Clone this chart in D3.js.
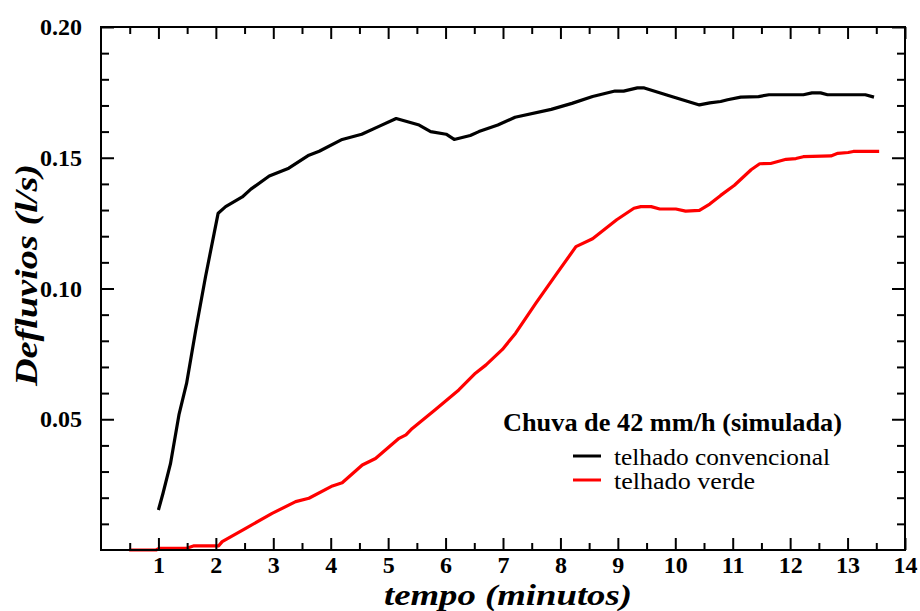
<!DOCTYPE html>
<html>
<head>
<meta charset="utf-8">
<script src="https://cdn.jsdelivr.net/npm/d3@7"></script>
<style>
  html, body { margin: 0; padding: 0; background: #fff; }
  svg { display: block; }
</style>
</head>
<body>
<script>
// ---- data ----
const convTime = [1.00, 1.08, 1.21, 1.36, 1.49, 1.65, 1.82, 1.97, 2.04, 2.17, 2.46, 2.61, 2.93, 3.27, 3.62, 3.80, 4.20, 4.54, 4.84, 5.14, 5.54, 5.74, 6.01, 6.15, 6.43, 6.58, 6.91, 7.21, 7.84, 8.20, 8.56, 8.95, 9.10, 9.34, 9.46, 9.88, 10.42, 10.60, 10.79, 10.91, 11.14, 11.45, 11.63, 12.23, 12.38, 12.53, 12.65, 13.31, 13.46];
const convFlow = [0.0153, 0.0217, 0.033, 0.052, 0.0637, 0.0841, 0.1045, 0.1211, 0.1288, 0.1313, 0.135, 0.138, 0.143, 0.146, 0.151, 0.1525, 0.157, 0.159, 0.162, 0.165, 0.1625, 0.160, 0.159, 0.157, 0.1585, 0.160, 0.1625, 0.1655, 0.1685, 0.1708, 0.1734, 0.1755, 0.1755, 0.1767, 0.1767, 0.1738, 0.1702, 0.1710, 0.1715, 0.1722, 0.1732, 0.1734, 0.1741, 0.1741, 0.1748, 0.1748, 0.1741, 0.1741, 0.1732];

const verdeTime = [0.49, 0.96, 1.01, 1.48, 1.62, 2.05, 2.11, 2.52, 2.98, 3.39, 3.62, 4.03, 4.20, 4.55, 4.78, 5.19, 5.31, 5.42, 5.83, 6.23, 6.52, 6.70, 6.99, 7.22, 7.57, 7.92, 8.27, 8.56, 8.98, 9.28, 9.40, 9.58, 9.73, 10.01, 10.18, 10.42, 10.60, 10.79, 11.03, 11.32, 11.47, 11.66, 11.93, 12.10, 12.23, 12.71, 12.83, 13.01, 13.10, 13.55];
const verdeFlow = [0.0, 0.0, 0.0006, 0.0006, 0.0016, 0.0016, 0.0032, 0.0083, 0.014, 0.0185, 0.0198, 0.0245, 0.0257, 0.0325, 0.035, 0.0427, 0.044, 0.0465, 0.0538, 0.0612, 0.0676, 0.0707, 0.0767, 0.0829, 0.0943, 0.1052, 0.116, 0.119, 0.1263, 0.1307, 0.1313, 0.1313, 0.1304, 0.1304, 0.1296, 0.1299, 0.1323, 0.1356, 0.1395, 0.1454, 0.1477, 0.1478, 0.1494, 0.1497, 0.1504, 0.1507, 0.1517, 0.152, 0.1524, 0.1524];

const xMajorTicks = [1, 2, 3, 4, 5, 6, 7, 8, 9, 10, 11, 12, 13, 14];
const xMinorTicks = [0.5, 1.5, 2.5, 3.5, 4.5, 5.5, 6.5, 7.5, 8.5, 9.5, 10.5, 11.5, 12.5, 13.5];
const yMajorTicks = [0.05, 0.10, 0.15, 0.20];
const yMajorLabels = ["0.05", "0.10", "0.15", "0.20"];
const yMinorTicks = [0.01, 0.02, 0.03, 0.04, 0.06, 0.07, 0.08, 0.09, 0.11, 0.12, 0.13, 0.14, 0.16, 0.17, 0.18, 0.19];

const seriesNames = ["telhado convencional", "telhado verde"];
const seriesColors = ["#000000", "#ff0000"];
const legendTitle = "Chuva de 42 mm/h (simulada)";
const xTitle = "tempo (minutos)";
const yTitle = "Defluvios (l/s)";

// ---- pick an installed serif font (fallback: Liberation Sans) ----
function hasFont(name) {
  const c = document.createElement("canvas").getContext("2d");
  const s = "telhado convencional 0123456789";
  let diff = false;
  ["monospace", "sans-serif"].forEach(base => {
    c.font = "30px " + base;
    const w0 = c.measureText(s).width;
    c.font = "30px '" + name + "', " + base;
    if (Math.abs(c.measureText(s).width - w0) > 0.5) diff = true;
  });
  return diff;
}
const candidates = ["Liberation Serif", "Times New Roman", "Tinos", "Nimbus Roman", "FreeSerif", "Noto Serif", "DejaVu Serif"];
const found = candidates.find(hasFont);
const FONT = found ? `'${found}', serif` : "'Liberation Sans', Arial, sans-serif";

// ---- layout ----
const W = 920, H = 611;
const L = 101, R = 905, T = 27, B = 550;

const svg = d3.select("body").append("svg").attr("width", W).attr("height", H)
  .style("font-family", FONT);

const x = d3.scaleLinear().domain([0, 14]).range([L, R]);
const y = d3.scaleLinear().domain([0, 0.20]).range([B, T]);

// lines
const line = d3.line().x(d => x(d[0])).y(d => y(d[1]));
const conv = convTime.map((t, i) => [t, convFlow[i]]);
const verde = verdeTime.map((t, i) => [t, verdeFlow[i]]);

svg.append("path").datum(verde).attr("d", line)
  .attr("fill", "none").attr("stroke", seriesColors[1]).attr("stroke-width", 3.2)
  .attr("stroke-linejoin", "round");
svg.append("path").datum(conv).attr("d", line)
  .attr("fill", "none").attr("stroke", seriesColors[0]).attr("stroke-width", 3.2)
  .attr("stroke-linejoin", "round");

function styleAxis(g) {
  g.attr("font-family", null);
  g.select(".domain").remove();
  g.selectAll(".tick line").attr("stroke", "#000").attr("stroke-width", 2);
  g.selectAll(".tick text").attr("font-weight", "bold").attr("font-size", 24).attr("fill", "#000")
    .style("font-family", FONT);
}

// bottom
svg.append("g").attr("transform", `translate(0,${B})`)
  .call(d3.axisBottom(x).tickValues(xMajorTicks).tickSize(-12).tickPadding(21).tickFormat(d3.format("d")))
  .call(styleAxis)
  .call(g => g.selectAll(".tick text").attr("dy", "0.1em"));
svg.append("g").attr("transform", `translate(0,${B})`)
  .call(d3.axisBottom(x).tickValues(xMinorTicks).tickSize(-7).tickFormat(""))
  .call(styleAxis);
// top
svg.append("g").attr("transform", `translate(0,${T})`)
  .call(d3.axisTop(x).tickValues(xMajorTicks).tickSize(-12).tickFormat(""))
  .call(styleAxis);
svg.append("g").attr("transform", `translate(0,${T})`)
  .call(d3.axisTop(x).tickValues(xMinorTicks).tickSize(-7).tickFormat(""))
  .call(styleAxis);
// left
svg.append("g").attr("transform", `translate(${L},0)`)
  .call(d3.axisLeft(y).tickValues(yMajorTicks).tickSize(-13).tickPadding(19)
    .tickFormat((d, i) => yMajorLabels[i]))
  .call(styleAxis);
svg.append("g").attr("transform", `translate(${L},0)`)
  .call(d3.axisLeft(y).tickValues(yMinorTicks).tickSize(-8).tickFormat(""))
  .call(styleAxis);
// right
svg.append("g").attr("transform", `translate(${R},0)`)
  .call(d3.axisRight(y).tickValues(yMajorTicks).tickSize(-13).tickFormat(""))
  .call(styleAxis);
svg.append("g").attr("transform", `translate(${R},0)`)
  .call(d3.axisRight(y).tickValues(yMinorTicks).tickSize(-8).tickFormat(""))
  .call(styleAxis);

// frame
svg.append("rect").attr("x", L).attr("y", T).attr("width", R - L).attr("height", B - T)
  .attr("fill", "none").attr("stroke", "#000").attr("stroke-width", 2);

// axis titles
svg.append("text").attr("x", 508).attr("y", 605)
  .attr("text-anchor", "middle").attr("font-weight", "bold").attr("font-style", "italic")
  .attr("font-size", 30).attr("textLength", 248).attr("lengthAdjust", "spacingAndGlyphs")
  .style("font-family", FONT).text(xTitle);
svg.append("text").attr("transform", `translate(37,${275}) rotate(-90)`)
  .attr("text-anchor", "middle").attr("font-weight", "bold").attr("font-style", "italic")
  .attr("font-size", 32).attr("textLength", 222).attr("lengthAdjust", "spacingAndGlyphs")
  .style("font-family", FONT).text(yTitle);

// legend
const lg = svg.append("g");
lg.append("text").attr("x", 503).attr("y", 431).attr("font-weight", "bold").attr("font-size", 25)
  .attr("textLength", 339).attr("lengthAdjust", "spacingAndGlyphs")
  .style("font-family", FONT).text(legendTitle);
const entryLengths = [216, 141];
seriesNames.forEach((name, i) => {
  const yy = 456 + i * 24;
  lg.append("line").attr("x1", 573).attr("x2", 601).attr("y1", yy).attr("y2", yy)
    .attr("stroke", seriesColors[i]).attr("stroke-width", 3);
  lg.append("text").attr("x", 614).attr("y", yy + 9).attr("font-size", 24)
    .attr("textLength", entryLengths[i]).attr("lengthAdjust", "spacingAndGlyphs")
    .style("font-family", FONT).text(name);
});
</script>
</body>
</html>
